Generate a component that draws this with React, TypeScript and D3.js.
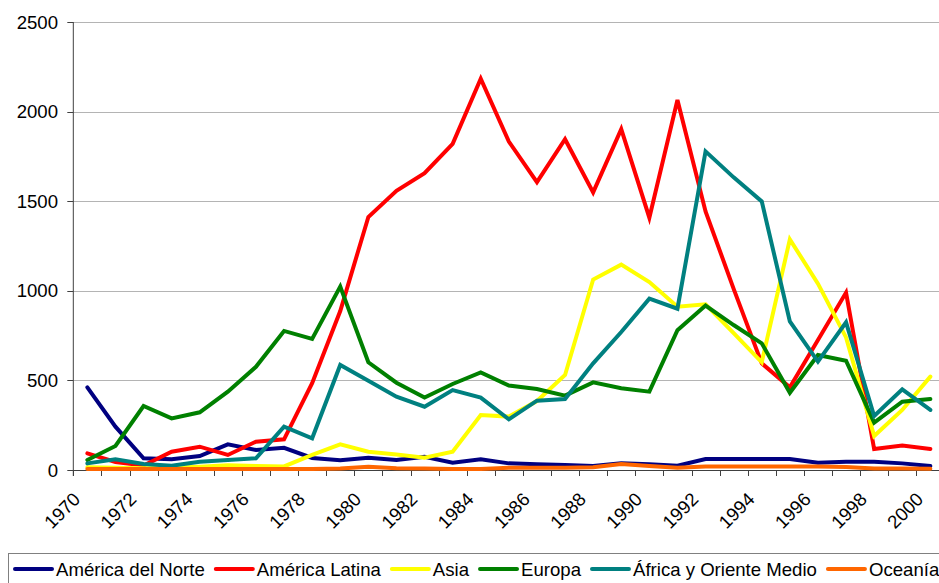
import React, { useRef, useEffect } from "react";
import * as d3 from "d3";

const years: number[] = d3.range(1970, 2001);

const seriesNames = [
  "América del Norte",
  "América Latina",
  "Asia",
  "Europa",
  "África y Oriente Medio",
  "Oceanía",
];

const seriesColors = ["#000080", "#FF0000", "#FFFF00", "#008000", "#008080", "#FF6600"];

const norte = [461, 242, 65, 60, 78, 143, 112, 124, 67, 54, 69, 56, 74, 41, 60, 37, 32, 28, 22, 37, 32, 24, 61, 61, 61, 61, 41, 46, 46, 37, 22];
const latina = [93, 45, 25, 102, 130, 84, 158, 171, 484, 887, 1412, 1558, 1656, 1820, 2183, 1833, 1606, 1846, 1549, 1902, 1408, 2065, 1443, 1011, 595, 461, 725, 990, 117, 136, 117];
const asia = [15, 12, 10, 12, 18, 26, 22, 20, 84, 143, 102, 87, 69, 102, 307, 298, 385, 530, 1063, 1146, 1049, 911, 925, 764, 601, 1287, 1040, 740, 190, 335, 521];
const europa = [56, 134, 357, 288, 322, 437, 576, 776, 731, 1023, 601, 487, 404, 480, 545, 471, 452, 415, 489, 456, 437, 780, 918, 809, 707, 431, 642, 610, 264, 381, 396];
const africa = [37, 60, 33, 24, 46, 56, 65, 242, 177, 586, 498, 409, 353, 446, 404, 283, 387, 396, 595, 770, 956, 900, 1778, 1633, 1499, 829, 605, 824, 301, 450, 335];
const oceania = [5, 5, 5, 5, 5, 5, 5, 5, 5, 8, 18, 10, 8, 5, 6, 12, 12, 12, 15, 33, 22, 13, 19, 19, 19, 19, 19, 17, 9, 9, 7];

const allSeries = [norte, latina, asia, europa, africa, oceania];

const yTicks = [0, 500, 1000, 1500, 2000, 2500];

const App: React.FC = () => {
  const svgRef = useRef<SVGSVGElement>(null);

  useEffect(() => {
    if (!svgRef.current) return;
    const width = 939;
    const height = 583;
    const margin = { top: 22, left: 73.3, bottom: 470 };
    const font = "'Liberation Sans', Arial, sans-serif";
    const fontSize = 18.6;

    const svg = d3.select(svgRef.current).attr("width", width).attr("height", height);
    svg.selectAll("*").remove();

    const x = d3
      .scaleBand<number>()
      .domain(years)
      .range([margin.left, margin.left + 28.1 * years.length])
      .padding(0);
    const cx = (yr: number) => (x(yr) ?? 0) + x.bandwidth() / 2;

    const y = d3.scaleLinear().domain([0, 2500]).range([margin.bottom, margin.top]);

    // gridlines
    svg
      .append("g")
      .selectAll("line")
      .data(yTicks.filter((t) => t > 0))
      .enter()
      .append("line")
      .attr("x1", margin.left)
      .attr("x2", width)
      .attr("y1", (d) => Math.round(y(d)) + 0.5)
      .attr("y2", (d) => Math.round(y(d)) + 0.5)
      .attr("stroke", "#b4b4b4")
      .attr("stroke-width", 1);

    // y axis
    const axisColor = "#404040";
    svg
      .append("line")
      .attr("x1", margin.left)
      .attr("x2", margin.left)
      .attr("y1", margin.top)
      .attr("y2", margin.bottom + 6)
      .attr("stroke", axisColor);
    svg
      .append("g")
      .selectAll("line")
      .data(yTicks)
      .enter()
      .append("line")
      .attr("x1", margin.left - 6)
      .attr("x2", margin.left)
      .attr("y1", (d) => Math.round(y(d)) + 0.5)
      .attr("y2", (d) => Math.round(y(d)) + 0.5)
      .attr("stroke", axisColor);
    svg
      .append("g")
      .selectAll("text")
      .data(yTicks)
      .enter()
      .append("text")
      .attr("x", 58)
      .attr("y", (d) => y(d))
      .attr("dy", "0.36em")
      .attr("text-anchor", "end")
      .attr("font-family", font)
      .attr("font-size", fontSize)
      .attr("fill", "#000")
      .text((d) => d);

    // x axis
    svg
      .append("line")
      .attr("x1", margin.left)
      .attr("x2", width)
      .attr("y1", margin.bottom + 0.5)
      .attr("y2", margin.bottom + 0.5)
      .attr("stroke", axisColor);
    svg
      .append("g")
      .selectAll("line")
      .data(years)
      .enter()
      .append("line")
      .attr("x1", (d) => Math.round(x(d) ?? 0) + 0.5)
      .attr("x2", (d) => Math.round(x(d) ?? 0) + 0.5)
      .attr("y1", margin.bottom)
      .attr("y2", margin.bottom + 6)
      .attr("stroke", axisColor);
    svg
      .append("g")
      .selectAll("text")
      .data(years.filter((yr) => yr % 2 === 0))
      .enter()
      .append("text")
      .attr("transform", (d) => `translate(${cx(d) - 6},${margin.bottom + 30.5}) rotate(-45)`)
      .attr("text-anchor", "end")
      .attr("font-family", font)
      .attr("font-size", fontSize)
      .attr("fill", "#000")
      .text((d) => d);

    // lines
    const line = d3
      .line<number>()
      .x((_, i) => cx(years[i]))
      .y((d) => y(d));
    allSeries.forEach((s, i) => {
      svg
        .append("path")
        .datum(s)
        .attr("d", line)
        .attr("fill", "none")
        .attr("stroke", seriesColors[i])
        .attr("stroke-width", 4)
        .attr("stroke-linejoin", "miter")
        .attr("stroke-miterlimit", 4)
        .attr("stroke-linecap", "round");
    });

    // legend
    const legend = svg.append("g");
    legend
      .append("rect")
      .attr("x", 8.5)
      .attr("y", 553.5)
      .attr("width", 960)
      .attr("height", 50)
      .attr("fill", "#fff")
      .attr("stroke", "#808080");
    let lx = 14;
    const ly = 569;
    seriesNames.forEach((name, i) => {
      legend
        .append("line")
        .attr("x1", lx + 1)
        .attr("x2", lx + 38)
        .attr("y1", ly)
        .attr("y2", ly)
        .attr("stroke", seriesColors[i])
        .attr("stroke-width", 4)
        .attr("stroke-linecap", "round");
      const t = legend
        .append("text")
        .attr("x", lx + 42)
        .attr("y", ly)
        .attr("dy", "0.36em")
        .attr("font-family", font)
        .attr("font-size", fontSize)
        .attr("fill", "#000")
        .text(name);
      const w = (t.node() as SVGTextElement).getComputedTextLength();
      lx = lx + 42 + w + 10;
    });
  }, []);

  return (
    <div style={{ position: "absolute", left: 0, top: 0 }}>
      <svg ref={svgRef} style={{ display: "block" }}></svg>
    </div>
  );
};

export default App;
